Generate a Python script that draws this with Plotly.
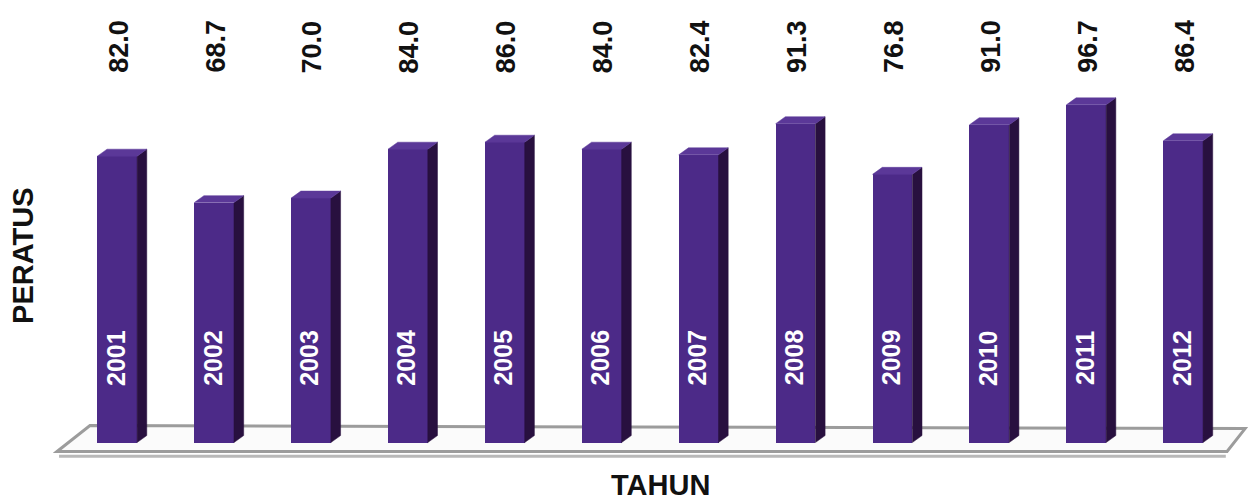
import plotly.graph_objects as go

years = ["2001", "2002", "2003", "2004", "2005", "2006", "2007", "2008", "2009", "2010", "2011", "2012"]
values = [82.0, 68.7, 70.0, 84.0, 86.0, 84.0, 82.4, 91.3, 76.8, 91.0, 96.7, 86.4]
value_labels = ["82.0", "68.7", "70.0", "84.0", "86.0", "84.0", "82.4", "91.3", "76.8", "91.0", "96.7", "86.4"]

FRONT = "#4c2a88"
SIDE = "#28103f"
TOP = "#5b3898"
FONT = "Liberation Sans, Arial, sans-serif"

xs = list(range(len(years)))
w = 0.41      # bar front width (x units)
dx = 0.10     # depth offset in x units
dy = 2.0      # depth offset in y units

fig = go.Figure()

# side faces and top faces computed from the data
sx, sy, tx, ty = [], [], [], []
for x, v in zip(xs, values):
    r = x + w / 2
    l = x - w / 2
    sx += [r, r + dx, r + dx, r, r, None]
    sy += [0, dy, v + dy, v, 0, None]
    tx += [l, l + dx, r + dx, r, l, None]
    ty += [v, v + dy, v + dy, v, v, None]

# front faces
fig.add_trace(go.Bar(x=xs, y=values, width=w, marker=dict(color=FRONT, line=dict(width=0)),
                     showlegend=False, hoverinfo="skip"))
fig.add_trace(go.Scatter(x=sx, y=sy, mode="lines", fill="toself", fillcolor=SIDE,
                         line=dict(color=SIDE, width=0.5), hoverinfo="skip",
                         showlegend=False))
fig.add_trace(go.Scatter(x=tx, y=ty, mode="lines", fill="toself", fillcolor=TOP,
                         line=dict(color=TOP, width=0.5), hoverinfo="skip",
                         showlegend=False))

# floor platform (decoration, drawn below the bars)
shapes = [
    dict(type="path", xref="x", yref="y", layer="below",
         path="M -0.60,-3.9 L 11.44,-3.9",
         line=dict(color="#b8b8b8", width=3)),
    dict(type="path", xref="x", yref="y", layer="below",
         path="M -0.621,-2.57 L -0.281,4.86 L 11.639,4.0 L 11.453,-2.57 Z",
         fillcolor="#fbfbfb", line=dict(color="#9c9c9c", width=3)),
]

annotations = []
for x, lab in zip(xs, value_labels):
    annotations.append(dict(x=x + 0.01, y=113.4, xref="x", yref="y", text=lab,
                            textangle=-90, showarrow=False,
                            font=dict(family=FONT, size=27, color="#111111", weight="bold")))
for x, yr in zip(xs, years):
    annotations.append(dict(x=x - 0.02, y=24.3, xref="x", yref="y", text=yr,
                            textangle=-90, showarrow=False,
                            font=dict(family=FONT, size=25, color="#ffffff", weight="bold")))

annotations.append(dict(x=(660 - 30) / 1221, y=(460.5 - 486) / 455, xref="paper", yref="paper",
                        text="TAHUN", showarrow=False, xanchor="center", yanchor="middle",
                        font=dict(family=FONT, size=29, color="#111111", weight="bold")))
annotations.append(dict(x=(23 - 30) / 1221, y=(460.5 - 256) / 455, xref="paper", yref="paper",
                        text="PERATUS", textangle=-90, showarrow=False,
                        xanchor="center", yanchor="middle",
                        font=dict(family=FONT, size=29, color="#111111", weight="bold")))

fig.update_layout(
    width=1251, height=504,
    margin=dict(l=30, r=0, t=5.5, b=43.5),
    paper_bgcolor="white", plot_bgcolor="white",
    xaxis=dict(range=[-0.9, 11.7], showgrid=False, zeroline=False, showticklabels=False,
               showline=False, fixedrange=True),
    yaxis=dict(range=[-5, 125], showgrid=False, zeroline=False, showticklabels=False,
               showline=False, fixedrange=True),
    annotations=annotations,
    shapes=shapes,
    bargap=0,
)

fig.write_html("out.html", config={"displayModeBar": False},
               post_script="document.body.style.margin='0';document.body.style.overflow='hidden';")
